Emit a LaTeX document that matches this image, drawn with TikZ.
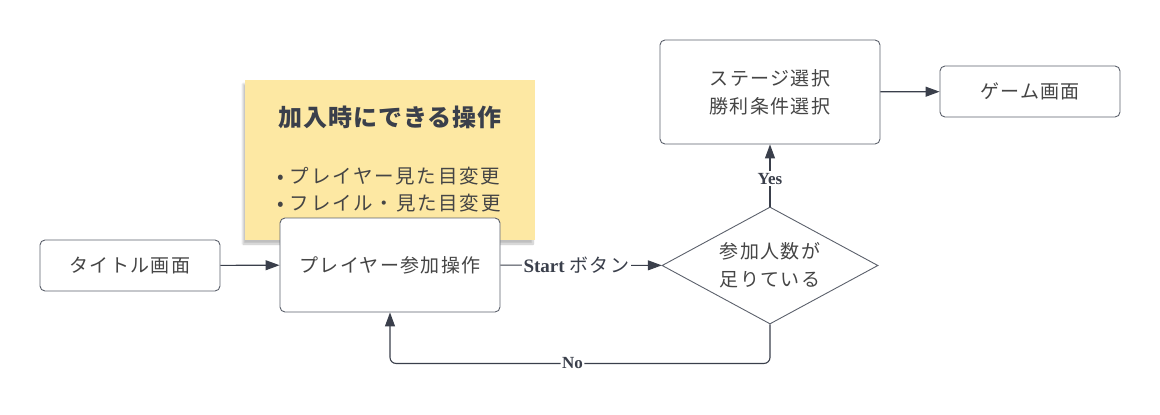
\documentclass[tikz,border=0pt]{standalone}
\usepackage{fontspec}
\setmainfont{Liberation Serif}
\newfontfamily\jp{Noto Sans CJK JP}[LetterSpace=7]
\newfontfamily\jpnote{Noto Sans CJK JP}[LetterSpace=9]
\newfontfamily\jphead{Noto Sans CJK JP}[LetterSpace=4]
\usetikzlibrary{shapes.geometric,arrows.meta,shadows.blur}
\definecolor{ink}{HTML}{3A3F4B}
\definecolor{edge}{HTML}{5C616C}
\definecolor{txt}{HTML}{454545}
\definecolor{note}{HTML}{FDE8A3}
\begin{document}
\begin{tikzpicture}[x=1pt,y=-1pt,
  box/.style={draw=edge,line width=0.9pt,rounded corners=5pt,fill=white,
    inner sep=0pt,align=center,font=\jp\fontsize{19}{28}\selectfont,text=txt},
  decide/.style={diamond,aspect=1.846,draw=edge,line width=0.9pt,fill=white,inner sep=0pt,
    align=center,font=\jp\fontsize{19}{28}\selectfont,text=txt},
  flow/.style={draw=ink,line width=1.1pt,-{Triangle[length=14pt,width=10pt]}},
  lbl/.style={fill=white,inner sep=1.5pt,text=ink,font=\bfseries\fontsize{16}{18}\selectfont},
  stickynote/.style={fill=note,draw=none,inner sep=0pt,
    blur shadow={shadow xshift=-2pt,shadow yshift=-4pt,shadow blur steps=8,shadow opacity=25}},
]
\useasboundingbox (0,0) rectangle (1160,415);

% sticky note behind the join step
\node[stickynote,minimum width=290pt,minimum height=160pt] (memo) at (390,160) {};
\node[text=ink,font=\jphead\bfseries\fontsize{24}{26}\selectfont] (memohead) at (390,117) {加入時にできる操作};
\node[anchor=west,text=txt,font=\jpnote\fontsize{19.5}{27}\selectfont,align=left,inner sep=0pt] (memobody) at (277,189.5)
  {• プレイヤー見た目変更\\• フレイル・見た目変更};

% steps
\node[box,minimum width=180pt,minimum height=51pt] (title) at (130,265.5) {タイトル画面};
\node[box,minimum width=220pt,minimum height=94pt] (join) at (390,265) {プレイヤー参加操作};
\node[decide,minimum width=216pt,minimum height=117pt] (enough) at (770,265.5) {参加人数が\\足りている};
\node[box,minimum width=220pt,minimum height=104pt] (stage) at (770,92) {ステージ選択\\勝利条件選択};
\node[box,minimum width=180pt,minimum height=51pt] (game) at (1030,91.5) {ゲーム画面};

% connectors
\draw[flow] (title) -- (join);
\draw[flow] (join) -- node[lbl,pos=0.47,font=\bfseries\fontsize{19}{20}\selectfont]{Start {\jp\mdseries ボタン}} (enough);
\draw[flow] (enough.north) -- node[lbl,pos=0.45,font=\bfseries\fontsize{17}{18}\selectfont]{Yes} (stage.south);
\draw[flow,rounded corners=6pt] (enough.south) -- ++(0,39) -| node[lbl,pos=0.26,font=\bfseries\fontsize{17}{18}\selectfont]{No} (join.south);
\draw[flow] (stage) -- (game);
\end{tikzpicture}
\end{document}
